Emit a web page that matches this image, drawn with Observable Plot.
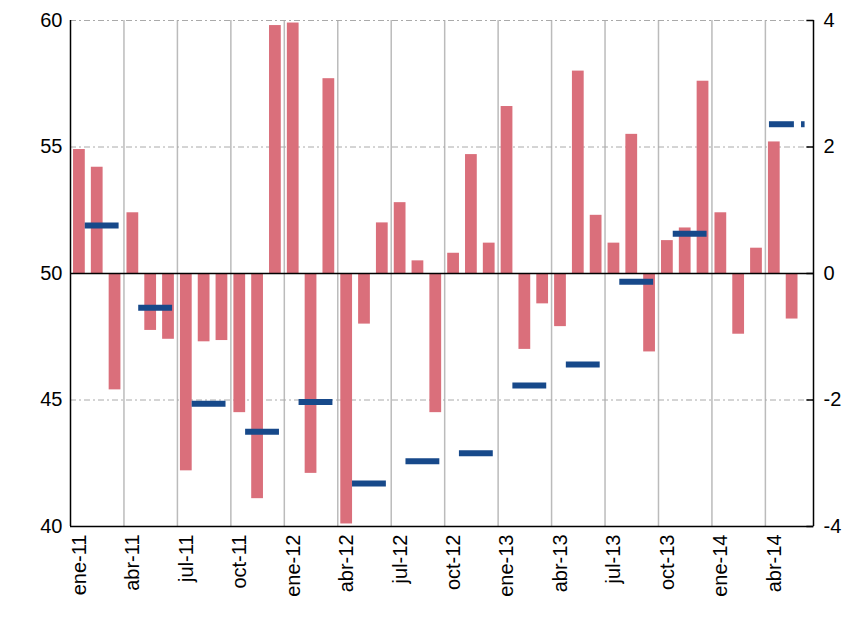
<!DOCTYPE html>
<html><head><meta charset="utf-8">
<script src="https://cdn.jsdelivr.net/npm/d3@7"></script>
<script src="https://cdn.jsdelivr.net/npm/@observablehq/plot@0.6"></script>
<style>body{margin:0;background:#fff}</style>
</head><body><div id="chart"></div>
<script>
const meses = ["ene","feb","mar","abr","may","jun","jul","ago","sep","oct","nov","dic"]
// indice mensual (eje izq.)
const barras = [54.9,54.2,45.4,52.4,47.75,47.4,42.2,47.3,47.35,44.5,41.1,59.8,
  59.9,42.1,57.7,40.1,48.0,52.0,52.8,50.5,44.5,50.8,54.7,51.2,
  56.6,47.0,48.8,47.9,58.0,52.3,51.2,55.5,46.9,51.3,51.8,57.6,
  52.4,47.6,51.0,55.2,48.2]
// variación trimestral (eje der.): mes inicial, mes final, valor
const trimIni = [0.3,3.3,6.3,9.3,12.3,15.3,18.3,21.3,24.3,27.3,30.3,33.3,38.7,40.5]
const trimFin = [2.2,5.2,8.2,11.2,14.2,17.2,20.2,23.2,26.2,29.2,32.2,35.2,40.1,40.7]
const trimVal = [0.76,-0.54,-2.06,-2.5,-2.03,-3.32,-2.97,-2.84,-1.77,-1.44,-0.13,0.63,2.36,2.36]

const data = barras.map((v, i) => ({i, v}))
const trim = trimVal.map((v, k) => ({x1: trimIni[k], x2: trimFin[k], y: v * 2.5 + 50}))
const etiq = d3.range(0, 41, 3)
const lab = i => meses[i % 12] + "-" + String(11 + Math.floor(i / 12))
const yTicks = [40, 45, 50, 55, 60]

const chart = Plot.plot({
  width: 862, height: 627,
  marginLeft: 70, marginRight: 49, marginTop: 20, marginBottom: 101,
  style: {fontFamily: "Liberation Sans, Arial", fontSize: "20px", color: "#000"},
  x: {domain: [-0.5, 41.2], axis: null},
  y: {domain: [40, 60], axis: null},
  marks: [
    Plot.ruleX(etiq.map(i => i - 0.5).slice(1), {stroke: "#bbb", strokeWidth: 1.5}),
    Plot.ruleY([45, 55, 60], {stroke: "#aaa", strokeDasharray: "6,3,2,3"}),
    Plot.rect(data, {x1: d => d.i - 0.33, x2: d => d.i + 0.33, y1: d => 50, y2: d => d.v, fill: "#da6f7b"}),
    Plot.ruleY([50], {stroke: "#000", strokeWidth: 1.5}),
    Plot.ruleY([40], {stroke: "#000", strokeWidth: 1.5}),
    Plot.ruleX([-0.5, 41.2], {stroke: "#000", strokeWidth: 1.5}),
    Plot.link(trim, {x1: "x1", x2: "x2", y1: "y", y2: "y", stroke: "#17498a", strokeWidth: 6}),
    Plot.link(yTicks, {x1: () => 40.8, x2: () => 41.2, y1: d => d, y2: d => d, stroke: "#000", strokeWidth: 1.5}),
    Plot.axisY({ticks: yTicks, tickFormat: d => d, tickSize: 0, tickPadding: 8, fontSize: 20, label: null}),
    Plot.axisY({anchor: "right", ticks: yTicks, tickFormat: d => (d - 50) / 2.5, tickSize: 0, tickPadding: 10, fontSize: 20, label: null}),
    Plot.axisX({ticks: etiq, tickFormat: lab, tickRotate: -90, tickSize: 0, tickPadding: 8, fontSize: 20, label: null})
  ]
})
d3.select("#chart").append(() => chart)
</script>
</body></html>
